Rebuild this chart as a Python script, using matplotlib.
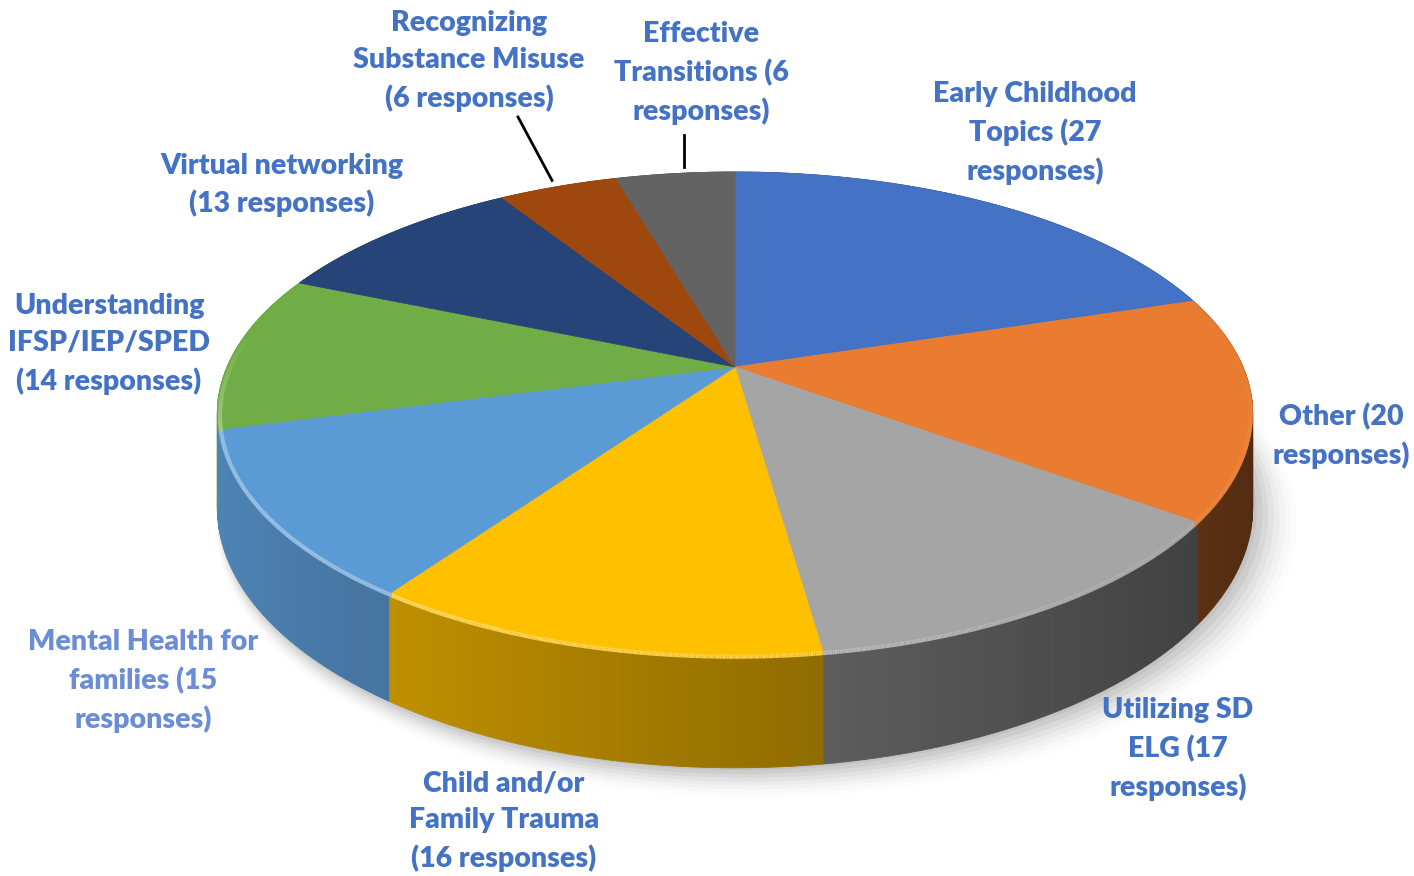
import numpy as np
import matplotlib
matplotlib.use("Agg")
import matplotlib.pyplot as plt
from matplotlib.patches import Polygon
from matplotlib.collections import LineCollection
from matplotlib.colors import to_rgb

labels = ["Early Childhood\nTopics (27\nresponses)",
          "Other (20\nresponses)",
          "Utilizing SD\nELG (17\nresponses)",
          "Child and/or\nFamily Trauma\n(16 responses)",
          "Mental Health for\nfamilies (15\nresponses)",
          "Understanding\nIFSP/IEP/SPED\n(14 responses)",
          "Virtual networking\n(13 responses)",
          "Recognizing\nSubstance Misuse\n(6 responses)",
          "Effective\nTransitions (6\nresponses)"]
values = [27, 20, 17, 16, 15, 14, 13, 6, 6]
colors = ["#4472C4", "#E97C30", "#A5A5A5", "#FFC000", "#5B9BD5",
          "#70AD47", "#264478", "#9E480E", "#636363"]

# label centres (pixels) and text colours
label_pos = [(1035, 133), (1341, 436), (1178, 749), (504, 821), (143, 681),
             (109, 344), (282, 185), (469, 61), (701, 73)]
label_col = ["#4472C4"] * 9
label_col[4] = "#6A8DD6"

# pie geometry (pixels)
cx, cy = 735, 367
A, B, k = 508, 232.6, 0.1926
D0 = 91

def proj(theta, h=0.0, r=1.0):
    x = r * np.sin(theta)
    y = r * np.cos(theta)
    s = 1.0 / (1 + k * y)
    return cx + A * x * s, cy - B * y * s + h * D0 * s

fig = plt.figure(figsize=(14.14, 8.76), dpi=100)
ax = fig.add_axes([0, 0, 1, 1])
ax.set_xlim(0, 1414)
ax.set_ylim(876, 0)
ax.axis("off")

total = float(sum(values))
bounds = np.concatenate([[0], np.cumsum(values)]) / total * 2 * np.pi

# soft shadow under the pie
tt = np.linspace(0, 2 * np.pi, 400)
for i, a in enumerate(np.linspace(0.05, 0.012, 8)):
    off = 4 + i * 2.5
    X, Y = proj(tt, 1.0, 1.0 + i * 0.006)
    ax.add_patch(Polygon(np.column_stack([X + off, Y + off * 0.6]), closed=True,
                         fc="black", ec="none", alpha=a, zorder=0))

# side walls, painted back to front
quads = []
for i in range(len(values)):
    base = np.array(to_rgb(colors[i]))
    n = max(int(np.degrees(bounds[i + 1] - bounds[i])), 2)
    th = np.linspace(bounds[i], bounds[i + 1], n + 1)
    for a0, a1 in zip(th[:-1], th[1:]):
        xm = np.sin((a0 + a1) / 2)
        ym = np.cos((a0 + a1) / 2)
        f = 0.60 - 0.26 * xm
        c = np.clip(base * f, 0, 1)
        p0 = proj(a0); p1 = proj(a1)
        q1 = proj(a1, 1.0); q0 = proj(a0, 1.0)
        quads.append((ym, [p0, p1, q1, q0], c))
quads.sort(key=lambda q: -q[0])
for ym, pts, c in quads:
    ax.add_patch(Polygon(pts, closed=True, fc=c, ec=c, lw=0.6, zorder=1))

# top faces
for i in range(len(values)):
    th = np.linspace(bounds[i], bounds[i + 1], 200)
    X, Y = proj(th)
    pts = np.vstack([[cx, cy], np.column_stack([X, Y])])
    ax.add_patch(Polygon(pts, closed=True, fc=colors[i], ec=colors[i], lw=0.5, zorder=2))
    # bevel highlight along the front rim, stronger towards the left
    base = np.array(to_rgb(colors[i]))
    Xh, Yh = proj(th, 0.03, 0.995)
    segs, cols = [], []
    for j in range(len(th) - 1):
        yv = np.cos(th[j]); xv = np.sin(th[j])
        if yv > 0.15:
            continue
        w = np.clip(0.25 - 0.2 * xv, 0, 0.4) * np.clip((0.15 - yv) / 0.4, 0, 1)
        cols.append(tuple(base + (1 - base) * w))
        segs.append([(Xh[j], Yh[j]), (Xh[j + 1], Yh[j + 1])])
    if segs:
        ax.add_collection(LineCollection(segs, colors=cols, lw=3, zorder=3))

# labels
for i, lab in enumerate(labels):
    ax.text(label_pos[i][0], label_pos[i][1], lab, ha="center", va="center",
            fontsize=20.5, fontweight="heavy", family="Lato", color=label_col[i],
            linespacing=1.5, zorder=5)

# leader lines for the two small slices
for i, start in [(7, (518, 117)), (8, (684, 135))]:
    mid = (bounds[i] + bounds[i + 1]) / 2
    ex, ey = proj(mid, 0.0, 1.04)
    if i == 8:
        ex = start[0]
    ax.plot([start[0], ex], [start[1], ey], color="black", lw=2, zorder=4)

fig.savefig("out.png", dpi=100, facecolor="white")
